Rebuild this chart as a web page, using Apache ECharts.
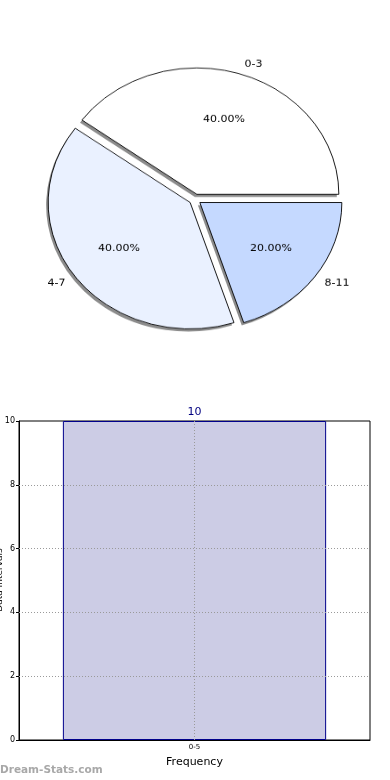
<!DOCTYPE html>
<html><head><meta charset="utf-8">
<script src="https://cdn.jsdelivr.net/npm/echarts@6/dist/echarts.min.js"></script>
<style>
html,body{margin:0;padding:0;background:#fff;overflow:hidden;}
#bar{position:absolute;left:0;top:0;width:390px;height:780px;}
#pie{position:absolute;left:0;top:0;width:390px;height:400px;transform:scaleY(0.89);transform-origin:0 0;pointer-events:none;}
</style></head>
<body>
<div id="bar"></div>
<div id="pie"></div>
<script>
// Pie data
const pieCategories = ['0-3', '4-7', '8-11'];
const pieValues = [4, 4, 2];
const pieColors = ['#FFFFFF', '#EAF1FF', '#C5D9FF'];
// Bar data
const barCategories = ['0-5'];
const barValues = [10];
const yTicks = [0, 2, 4, 6, 8, 10];
const yAxisTitle = 'Data Intervals';

const total = pieValues.reduce((a, b) => a + b, 0);
const FONT = 'DejaVu Sans';

const pieChart = echarts.init(document.getElementById('pie'));
const cx = 195, cy = 224, R = 142;
const base = { type: 'pie', silent: true, startAngle: 0, clockwise: false, avoidLabelOverlap: false, emphasis: { disabled: true } };
pieChart.setOption({
  animation: false,
  series: [
    Object.assign({}, base, {
      // shadow layer
      selectedMode: 'multiple', selectedOffset: 6,
      center: [cx - 2, cy + 3], radius: [0, R],
      label: { show: false }, labelLine: { show: false },
      itemStyle: { color: '#8c8c8c', borderWidth: 0 },
      data: pieCategories.map((c, i) => ({ name: c, value: pieValues[i], selected: true }))
    }),
    Object.assign({}, base, {
      selectedMode: 'multiple', selectedOffset: 6,
      center: [cx, cy], radius: [0, R],
      label: { show: true, position: 'outside', color: '#000', fontSize: 11, fontFamily: FONT,
        formatter: '{b}', distanceToLabelLine: 0 },
      labelLine: { show: false, length: 12, length2: 0 },
      itemStyle: { borderColor: '#000', borderWidth: 0.9 },
      data: pieCategories.map((c, i) => ({ name: c, value: pieValues[i], selected: true, itemStyle: { color: pieColors[i] } }))
    }),
    Object.assign({}, base, {
      center: [cx, cy], radius: [80, 102],
      itemStyle: { color: 'rgba(0,0,0,0)', borderWidth: 0 },
      labelLine: { show: false },
      label: { show: true, position: 'inside', color: '#000', fontSize: 11, fontFamily: FONT,
        formatter: p => (p.value / total * 100).toFixed(2) + '%' },
      data: pieCategories.map((c, i) => ({ name: c, value: pieValues[i] }))
    })
  ]
});

const gridLine = { color: '#9a9a9a', type: [1, 2], width: 1 };
const barChart = echarts.init(document.getElementById('bar'));
barChart.setOption({
  animation: false,
  grid: { left: 19, right: 20, top: 421, bottom: 40, containLabel: false, outerBoundsMode: 'none',
    show: true, borderColor: '#000', borderWidth: 1, backgroundColor: 'transparent' },
  xAxis: {
    type: 'category', data: barCategories,
    name: 'Frequency', nameLocation: 'middle', nameGap: 17,
    nameTextStyle: { color: '#000', fontSize: 11, fontFamily: FONT },
    axisLine: { lineStyle: { color: '#000', width: 1 } },
    axisTick: { show: false },
    axisLabel: { color: '#000', fontSize: 7, fontFamily: FONT, margin: 4 },
    splitLine: { show: false }
  },
  yAxis: {
    type: 'value', min: 0, max: 10, interval: 2,
    axisLine: { show: true, lineStyle: { color: '#000', width: 1 } },
    axisTick: { show: true, length: 3, lineStyle: { color: '#000' } },
    axisLabel: { color: '#000', fontSize: 8, fontFamily: FONT, margin: 4,
      formatter: v => yTicks.includes(v) ? String(v) : '' },
    splitLine: { show: false }
  },
  series: [{
    type: 'bar', data: barValues, barWidth: '75%', silent: true,
    itemStyle: { color: '#CCCCE5', borderColor: '#00008B', borderWidth: 1 },
    label: { show: true, position: 'top', distance: 3, color: '#000080', fontSize: 11, fontFamily: FONT },
    markLine: {
      silent: true, symbol: 'none', label: { show: false }, lineStyle: gridLine, animation: false,
      emphasis: { disabled: true },
      data: yTicks.filter(v => v > yTicks[0] && v < yTicks[yTicks.length - 1]).map(v => ({ yAxis: v }))
        .concat(barCategories.map(c => ({ xAxis: c })))
    }
  }],
  graphic: [
    {
      type: 'text', x: 0, y: 580, rotation: Math.PI / 2,
      style: { text: yAxisTitle, fill: '#000', font: '9px "DejaVu Sans"', align: 'center', verticalAlign: 'middle' }
    },
    {
      type: 'text', left: 0, top: 765,
      style: { text: 'Dream-Stats.com', fill: '#A8A8A8', font: 'bold 10.5px "DejaVu Sans"' }
    }
  ]
});
</script>
</body></html>
